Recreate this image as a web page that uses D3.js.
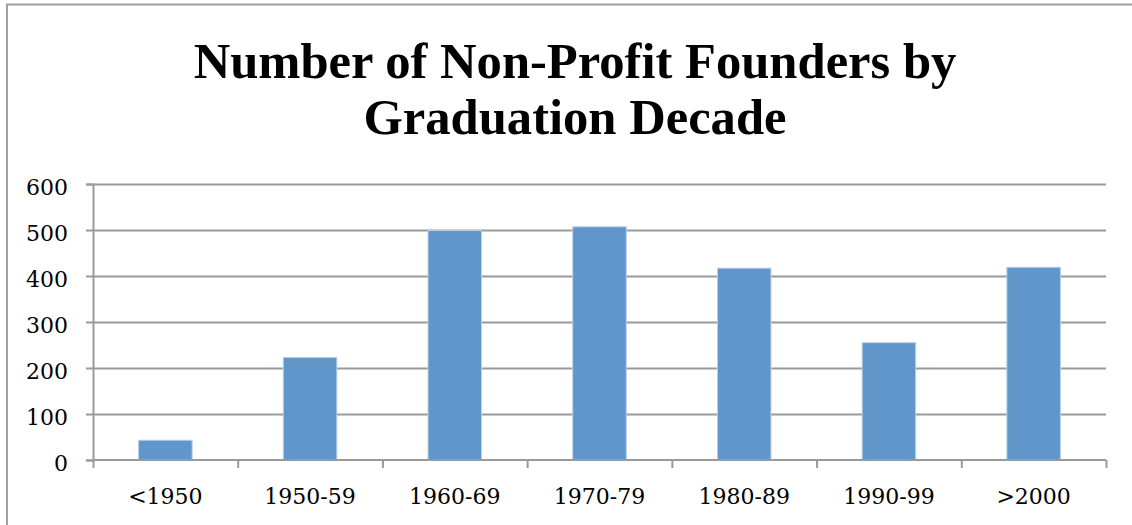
<!DOCTYPE html>
<html>
<head>
<meta charset="utf-8">
<script src="https://cdn.jsdelivr.net/npm/d3@7"></script>
<style>
  body { margin: 0; background: #fff; }
</style>
</head>
<body>
<svg id="chart" width="1132" height="525"></svg>
<script>
// chart data
var decades = ["<1950", "1950-59", "1960-69", "1970-79", "1980-89", "1990-99", ">2000"];
var founders = [43, 223, 499, 507, 417, 255, 419];
var yTicks = [0, 100, 200, 300, 400, 500, 600];
var titleLines = ["Number of Non-Profit Founders by", "Graduation Decade"];

var margin = {top: 184, right: 26, bottom: 65, left: 93},
  width = 1132 - margin.left - margin.right,
  height = 276;

var tickFont = "'DejaVu Serif', serif";

var svg = d3.select("#chart");

// outer frame (top and left only, rest is cropped)
svg.append("path")
  .attr("d", "M7,525V4.5H1132")
  .attr("fill", "none")
  .attr("stroke", "#a0a0a0")
  .attr("stroke-width", 2);

// title
svg.append("g")
  .selectAll("text")
  .data(titleLines)
  .enter()
  .append("text")
  .attr("x", 575)
  .attr("y", function(d, i) { return 78 + i * 56; })
  .attr("text-anchor", "middle")
  .style("font-family", "'Liberation Serif', serif")
  .style("font-size", "50.6px")
  .style("font-weight", "bold")
  .attr("fill", "#000")
  .text(function(d) { return d; });

var g = svg.append("g")
  .attr("transform", "translate(" + margin.left + "," + margin.top + ")");

var x = d3.scaleBand()
  .domain(decades)
  .range([0, width])
  .paddingInner(0.63)
  .paddingOuter(0.315);

var y = d3.scaleLinear()
  .domain([0, 600])
  .range([height, 0]);

// gridlines
g.append("g")
  .call(d3.axisLeft(y).tickValues(yTicks.slice(1)).tickSize(-width).tickFormat(""))
  .call(function(s) {
    s.select(".domain").remove();
    s.selectAll("line").attr("stroke", "#9a9a9a").attr("stroke-width", 2);
  });

// bars
g.append("g")
  .selectAll("rect")
  .data(founders)
  .enter()
  .append("rect")
  .attr("x", function(d, i) { return x(decades[i]); })
  .attr("y", function(d) { return y(d); })
  .attr("width", x.bandwidth())
  .attr("height", function(d) { return height - y(d); })
  .attr("fill", "#6096c9")
  .attr("stroke", "#b9d0ea")
  .attr("stroke-width", 1);

// y axis
g.append("g")
  .call(d3.axisLeft(y).tickValues(yTicks).tickSize(7).tickPadding(18))
  .call(function(s) {
    s.select(".domain").attr("stroke", "#9a9a9a").attr("stroke-width", 2);
    s.selectAll("line").attr("stroke", "#9a9a9a").attr("stroke-width", 2);
    s.selectAll("text")
      .attr("dy", "0.47em")
      .style("font-size", "22px")
      .style("font-family", tickFont)
      .attr("fill", "#000");
  });

// x axis: boundaries between categories
var xb = d3.scaleLinear().domain([0, decades.length]).range([0, width]);
g.append("g")
  .attr("transform", "translate(0," + height + ")")
  .call(d3.axisBottom(xb).ticks(decades.length).tickSize(8).tickFormat(""))
  .call(function(s) {
    s.select(".domain").attr("stroke", "#9a9a9a").attr("stroke-width", 2).attr("d", "M0,0H" + width);
    s.selectAll("line").attr("stroke", "#9a9a9a").attr("stroke-width", 2);
  });

// x labels
g.append("g")
  .attr("transform", "translate(0," + height + ")")
  .call(d3.axisBottom(x).tickSize(0).tickPadding(28))
  .call(function(s) {
    s.select(".domain").remove();
    s.selectAll("text")
      .style("font-size", "22px")
      .style("font-family", tickFont)
      .attr("fill", "#000");
  });
</script>
</body>
</html>
